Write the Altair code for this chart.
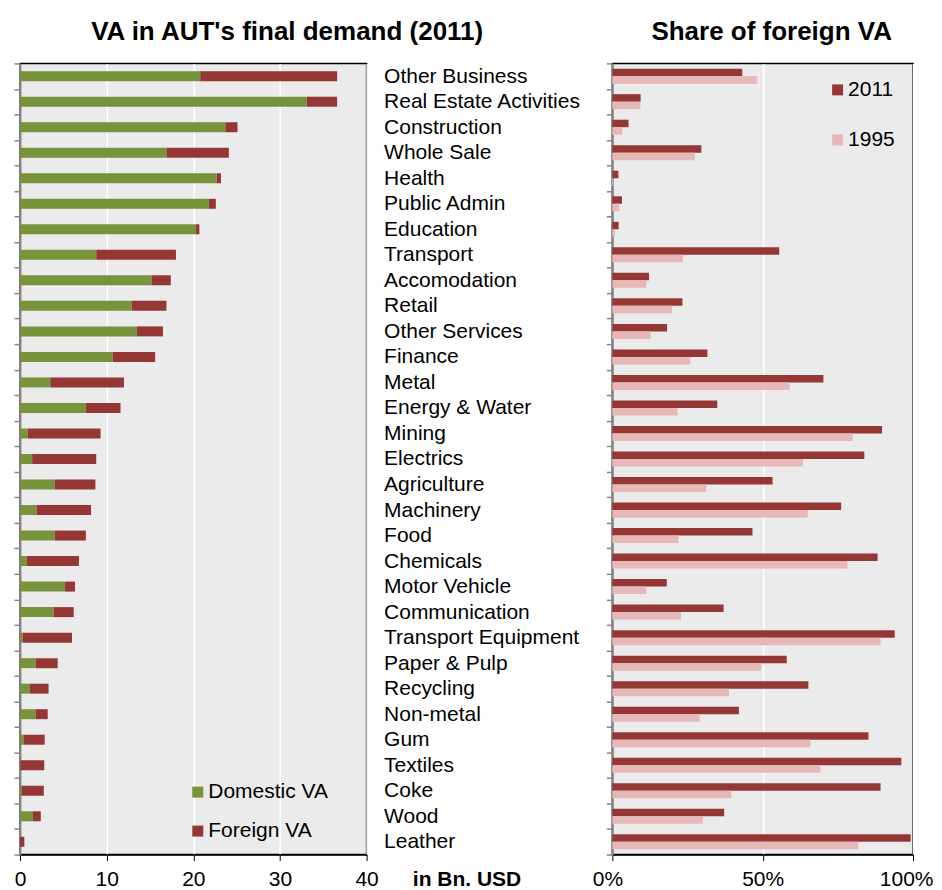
import altair as alt
import pandas as pd

categories = ["Other Business", "Real Estate Activities", "Construction", "Whole Sale", "Health",
              "Public Admin", "Education", "Transport", "Accomodation", "Retail", "Other Services",
              "Finance", "Metal", "Energy & Water", "Mining", "Electrics", "Agriculture", "Machinery",
              "Food", "Chemicals", "Motor Vehicle", "Communication", "Transport Equipment",
              "Paper & Pulp", "Recycling", "Non-metal", "Gum", "Textiles", "Coke", "Wood", "Leather"]

domestic_va = [20.8, 33.1, 23.7, 16.9, 22.7, 21.8, 20.3, 8.8, 15.2, 12.9, 13.5, 10.7, 3.5, 7.6, 0.9,
               1.4, 4.0, 1.9, 4.0, 0.8, 5.2, 3.9, 0.3, 1.8, 1.1, 1.8, 0.4, 0.05, 0.2, 1.5, 0.0]
foreign_va = [15.8, 3.5, 1.4, 7.2, 0.5, 0.8, 0.4, 9.2, 2.2, 4.0, 3.0, 4.9, 8.5, 4.0, 8.4, 7.4, 4.7,
              6.3, 3.6, 6.0, 1.15, 2.3, 5.7, 2.55, 2.2, 1.4, 2.45, 2.75, 2.55, 0.9, 0.5]

share_2011 = [43.2, 9.4, 5.4, 29.6, 2.0, 3.2, 2.1, 55.5, 12.2, 23.3, 18.2, 31.6, 70.2, 34.9, 89.7,
              83.8, 53.3, 76.1, 46.6, 88.2, 18.1, 37.0, 93.9, 58.0, 65.2, 42.1, 85.2, 96.1, 89.2,
              37.2, 99.2]
share_1995 = [48.2, 9.3, 3.3, 27.4, 0.3, 2.3, 0.9, 23.4, 11.3, 19.8, 12.8, 25.9, 59.0, 21.7, 79.9,
              63.4, 31.2, 65.0, 22.0, 78.2, 11.3, 22.8, 89.2, 49.5, 38.8, 29.0, 65.9, 69.2, 39.6,
              30.1, 81.8]

va_types = ["Domestic VA", "Foreign VA"]
years = ["2011", "1995"]

FONT = "Liberation Sans"
GREEN = "#77933C"
RED = "#953735"
PINK = "#E6B9B8"

rows = []
for i, c in enumerate(categories):
    rows.append({"sector": c, "type": va_types[0], "value": domestic_va[i], "ord": 0})
    rows.append({"sector": c, "type": va_types[1], "value": foreign_va[i], "ord": 1})
left_df = pd.DataFrame(rows)

rows = []
for i, c in enumerate(categories):
    rows.append({"sector": c, "year": years[0], "share": share_2011[i] / 100})
    rows.append({"sector": c, "year": years[1], "share": share_1995[i] / 100})
right_df = pd.DataFrame(rows)

x_axis_common = dict(labelFontSize=21, labelFont=FONT, labelColor="black", domainColor="black",
                     domainWidth=1.5, tickColor="black", tickSize=6, labelPadding=8,
                     labelOverlap=False, gridColor="white", gridWidth=1.5, grid=True)

title_common = dict(titleFont=FONT, titleFontSize=26, titleFontWeight="bold", titleColor="black",
                    titleAngle=0, titleAlign="center", titleBaseline="alphabetic", titleY=-24)

y_axis_common = dict(tickBand="extent", domainColor="#868686", domainWidth=2,
                     tickColor="#868686", tickWidth=1.5, tickSize=6, grid=False)

legend_common = dict(orient="none", title=None, symbolType="square", symbolSize=121,
                     labelFontSize=21, labelFont=FONT, labelColor="black", padding=0,
                     symbolStrokeWidth=0, labelOffset=0)

left = alt.Chart(left_df).mark_bar(size=10).encode(
    x=alt.X("value:Q", stack="zero", scale=alt.Scale(domain=[0, 40], nice=False),
            axis=alt.Axis(values=[0, 10, 20, 30, 40], title=None, labelFlush=False,
                          **x_axis_common)),
    y=alt.Y("sector:N", sort=categories,
            scale=alt.Scale(paddingInner=0, paddingOuter=0),
            axis=alt.Axis(labels=False, title="VA in AUT's final demand (2011)", titleX=267,
                          **title_common, **y_axis_common)),
    color=alt.Color("type:N", scale=alt.Scale(domain=va_types, range=[GREEN, RED]),
                    legend=alt.Legend(legendX=167.5, legendY=719, rowPadding=17, **legend_common)),
    order=alt.Order("ord:Q"),
).properties(width=347, height=792)

right = alt.Chart(right_df).mark_bar().encode(
    x=alt.X("share:Q", scale=alt.Scale(domain=[0, 1], nice=False),
            axis=alt.Axis(values=[0, 0.5, 1], format=".0%", title="in Bn. USD",
                          labelFlush=True, labelFlushOffset=20,
                          titleFont=FONT, titleFontSize=21, titleFontWeight="bold",
                          titleColor="black", titleX=-146, titleY=14, titleBaseline="top",
                          titleAlign="center", **x_axis_common)),
    y=alt.Y("sector:N", sort=categories,
            scale=alt.Scale(paddingInner=0, paddingOuter=0),
            axis=alt.Axis(title="Share of foreign VA", titleX=159, **title_common,
                          labelAlign="left", labelPadding=223, labelLimit=400,
                          labelFontSize=21, labelFont=FONT, labelColor="black",
                          **y_axis_common)),
    yOffset=alt.YOffset("year:N", sort=years,
                        scale=alt.Scale(domain=years, paddingInner=0, paddingOuter=0.7)),
    color=alt.Color("year:N", scale=alt.Scale(domain=years, range=[RED, PINK]),
                    legend=alt.Legend(legendX=215, legendY=16, rowPadding=28, **legend_common)),
).properties(width=301, height=792)

chart = alt.hconcat(left, right, spacing=246, bounds="flush").resolve_scale(
    color="independent", y="independent", x="independent"
).resolve_legend(color="independent").properties(
    padding={"left": 4, "top": 9, "right": 0, "bottom": 0},
    background="white",
).configure_view(
    fill="#EBEBEB", stroke="black", strokeWidth=1.5
)

chart.save("out.html", embed_options={"renderer": "svg", "actions": False})
